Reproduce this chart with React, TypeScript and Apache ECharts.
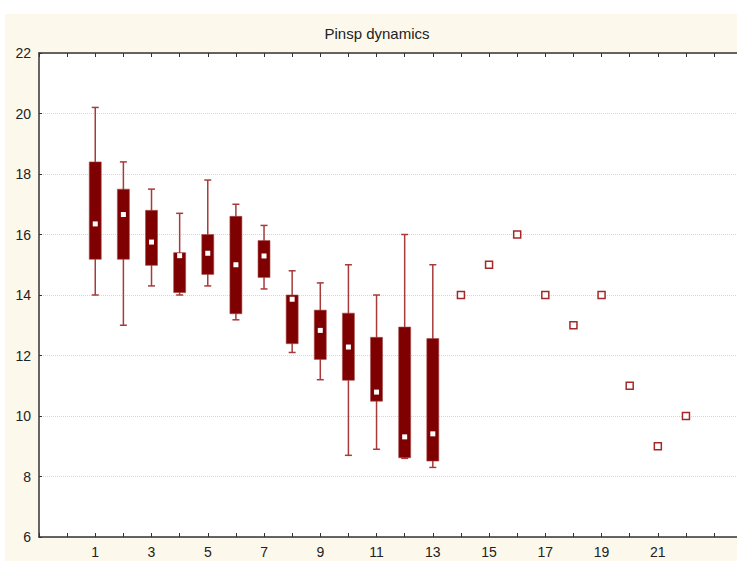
import React, { useEffect, useRef } from "react";
import * as echarts from "echarts";

// ---- data ----
const boxCategories = [1, 2, 3, 4, 5, 6, 7, 8, 9, 10, 11, 12, 13];
const whiskerLow = [14.0, 13.0, 14.3, 14.0, 14.3, 13.18, 14.2, 12.1, 11.2, 8.7, 8.9, 8.6, 8.3];
const boxLow = [15.18, 15.18, 14.98, 14.08, 14.68, 13.38, 14.58, 12.39, 11.87, 11.18, 10.49, 8.62, 8.51];
const centerValues = [16.35, 16.66, 15.75, 15.3, 15.38, 15.0, 15.29, 13.86, 12.83, 12.28, 10.79, 9.31, 9.41];
const boxHigh = [18.4, 17.5, 16.8, 15.4, 16.0, 16.6, 15.8, 14.0, 13.5, 13.4, 12.6, 12.94, 12.56];
const whiskerHigh = [20.2, 18.4, 17.5, 16.7, 17.8, 17.0, 16.3, 14.8, 14.4, 15.0, 14.0, 16.0, 15.0];

const pointCategories = [14, 15, 16, 17, 18, 19, 20, 21, 22];
const pointValues = [14, 15, 16, 14, 13, 14, 11, 9, 10];

const xTickLabels = ["1", "3", "5", "7", "9", "11", "13", "15", "17", "19", "21"];
const titleText = "Pinsp dynamics";

const FONT = "Liberation Sans, Arial, sans-serif";

export default function App() {
  const ref = useRef<HTMLDivElement>(null);

  useEffect(() => {
    if (!ref.current) return;
    const chart = echarts.init(ref.current, undefined, { renderer: "svg" });

    const boxData = boxCategories.map((c, i) => [
      c,
      whiskerLow[i],
      boxLow[i],
      centerValues[i],
      boxHigh[i],
      whiskerHigh[i],
    ]);
    const pointData = pointCategories.map((c, i) => [c, pointValues[i]]);

    const renderBox = (params: any, api: any) => {
      const x = api.value(0);
      const wl = api.coord([x, api.value(1)]);
      const bl = api.coord([x, api.value(2)]);
      const ce = api.coord([x, api.value(3)]);
      const bh = api.coord([x, api.value(4)]);
      const wh = api.coord([x, api.value(5)]);
      const cx = wl[0];
      const halfBox = 6;
      const halfCap = 3.5;
      const whiskerStyle = { stroke: "#a83a3a", lineWidth: 1.5 };
      return {
        type: "group",
        children: [
          { type: "line", shape: { x1: cx, y1: wh[1], x2: cx, y2: wl[1] }, style: whiskerStyle },
          { type: "line", shape: { x1: cx - halfCap, y1: wh[1], x2: cx + halfCap, y2: wh[1] }, style: whiskerStyle },
          { type: "line", shape: { x1: cx - halfCap, y1: wl[1], x2: cx + halfCap, y2: wl[1] }, style: whiskerStyle },
          {
            type: "rect",
            shape: { x: cx - halfBox, y: bh[1], width: halfBox * 2, height: bl[1] - bh[1] },
            style: { fill: "#7f0000", stroke: "#a84a4a", lineWidth: 0.6 },
          },
          {
            type: "rect",
            shape: { x: cx - 2.5, y: ce[1] - 2.5, width: 5, height: 5 },
            style: { fill: "#ffffff" },
          },
        ],
      };
    };

    const xFormatter = (v: number) => {
      const r = Math.round(v);
      const s = String(r);
      return xTickLabels.includes(s) && Math.abs(v - r) < 1e-6 ? s : "";
    };

    chart.setOption({
      animation: false,
      grid: {
        left: 39,
        top: 53,
        width: 710.25,
        height: 484,
        containLabel: false,
        outerBoundsMode: "none",
        show: true,
        backgroundColor: "#ffffff",
        borderWidth: 0,
        borderColor: "transparent",
      },
      graphic: [
        {
          type: "text",
          x: 377,
          y: 33,
          style: {
            text: titleText,
            fill: "#222",
            font: `15px ${FONT}`,
            textAlign: "center",
            textVerticalAlign: "middle",
          },
        },
      ],
      xAxis: [
        {
          type: "value",
          min: -1,
          max: 24.25,
          interval: 1,
          position: "bottom",
          axisLine: { show: true, lineStyle: { color: "#333", width: 1.5 } },
          axisTick: { show: true, inside: true, length: 4, lineStyle: { color: "#333" } },
          axisLabel: {
            show: true,
            formatter: xFormatter,
            color: "#222",
            fontSize: 14,
            fontFamily: FONT,
            margin: 8,
          },
          splitLine: { show: false },
        },
        {
          type: "value",
          min: -1,
          max: 24.25,
          interval: 1,
          position: "top",
          axisLine: { show: true, onZero: false, lineStyle: { color: "#333", width: 1.5 } },
          axisTick: { show: true, inside: true, length: 4, lineStyle: { color: "#333" } },
          axisLabel: { show: false },
          splitLine: { show: false },
        },
      ],
      yAxis: {
        type: "value",
        min: 6,
        max: 22,
        interval: 2,
        axisLine: { show: true, onZero: false, lineStyle: { color: "#333", width: 1.5 } },
        axisTick: { show: true, inside: true, length: 3, lineStyle: { color: "#333" } },
        axisLabel: { color: "#222", fontSize: 14, fontFamily: FONT, margin: 8 },
        splitLine: { show: true, lineStyle: { color: "#d6d6d6", type: "dotted", width: 1 } },
      },
      series: [
        {
          type: "custom",
          renderItem: renderBox,
          data: boxData,
          encode: { x: 0, y: [1, 2, 3, 4, 5] },
          clip: false,
          z: 3,
        },
        {
          type: "scatter",
          data: pointData,
          symbol: "rect",
          symbolSize: 7,
          itemStyle: { color: "#ffffff", borderColor: "#a52828", borderWidth: 1.5, opacity: 1 },
          z: 4,
        },
      ],
    });

    return () => chart.dispose();
  }, []);

  return (
    <div style={{ position: "absolute", left: 0, top: 0, width: 737, height: 561, background: "#ffffff", overflow: "hidden" }}>
      <div style={{ position: "absolute", left: 5, top: 14, right: 0, bottom: 0, background: "#fdf8ec" }} />
      <div ref={ref} style={{ position: "absolute", left: 0, top: 0, width: 737, height: 561 }} />
    </div>
  );
}
